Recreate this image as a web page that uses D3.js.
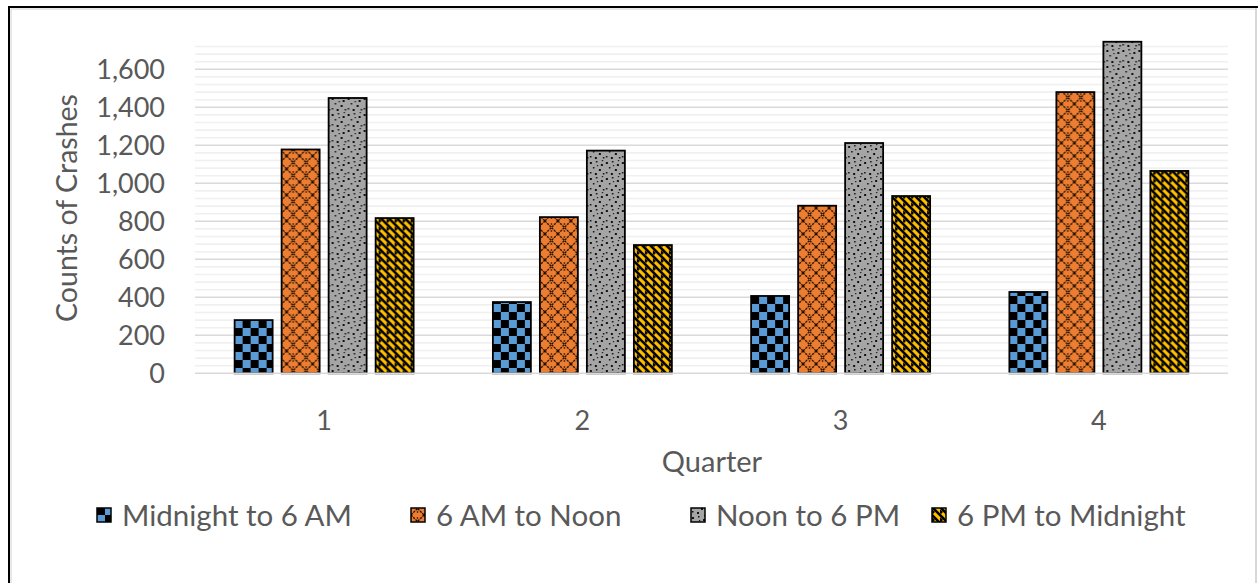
<!DOCTYPE html>
<html><head><meta charset="utf-8">
<script src="https://cdn.jsdelivr.net/npm/d3@7"></script>
<style>body{margin:0;background:#fff}svg{display:block}text{font-family:Lato,"Open Sans",sans-serif;fill:#595959}</style>
</head><body><svg id="c" width="1258" height="583"></svg>
<script>
const quarters = ["1","2","3","4"];
const seriesNames = ["Midnight to 6 AM","6 AM to Noon","Noon to 6 PM","6 PM to Midnight"];
const midnightTo6 = [280, 375, 407, 428];
const amToNoon = [1178, 822, 882, 1480];
const noonTo6 = [1449, 1172, 1212, 1745];
const pmToMidnight = [817, 675, 933, 1065];
const yTicks = [0,200,400,600,800,1000,1200,1400,1600];
const seriesValues = [midnightTo6, amToNoon, noonTo6, pmToMidnight];

const svg = d3.select("#c");
const defs = svg.append("defs");

// patterns
const p0 = defs.append("pattern").attr("id","pat0").attr("patternUnits","userSpaceOnUse").attr("width",16).attr("height",16);
p0.append("rect").attr("width",16).attr("height",16).attr("fill","#5b9bd5");
p0.append("rect").attr("x",8).attr("width",8).attr("height",8).attr("fill","#000");
p0.append("rect").attr("y",8).attr("width",8).attr("height",8).attr("fill","#000");

const p1 = defs.append("pattern").attr("id","pat1").attr("patternUnits","userSpaceOnUse").attr("width",13).attr("height",13);
p1.append("rect").attr("width",13).attr("height",13).attr("fill","#ed7d31");
p1.append("path").attr("d","M0,0L13,13M13,0L0,13").attr("stroke","#1a0d00").attr("stroke-width",1.3).attr("stroke-dasharray","2.2,1");
p1.append("circle").attr("cx",6.5).attr("cy",3).attr("r",0.8).attr("fill","#000");
p1.append("circle").attr("cx",6.5).attr("cy",10).attr("r",0.8).attr("fill","#000");

const p2 = defs.append("pattern").attr("id","pat2").attr("patternUnits","userSpaceOnUse").attr("width",16).attr("height",16);
p2.append("rect").attr("width",16).attr("height",16).attr("fill","#a5a5a5");
[[1,2,2],[7,1,1.5],[12,4,2],[4,7,1.5],[10,9,2],[1,12,1.5],[6,13,2],[14,13,1.5],[13,0,1.2],[8,5,1.2]].forEach(d=>{
  p2.append("rect").attr("x",d[0]).attr("y",d[1]).attr("width",d[2]).attr("height",d[2]).attr("fill","#111");
});

const p3 = defs.append("pattern").attr("id","pat3").attr("patternUnits","userSpaceOnUse").attr("width",8).attr("height",8);
p3.append("rect").attr("width",8).attr("height",8).attr("fill","#ffc000");
p3.append("path").attr("d","M-2,2L2,6M-2,-2L10,10M6,-2L10,2M2,-6L14,6M-6,2L6,14").attr("stroke","#000").attr("stroke-width",2.6);

// border
svg.append("line").attr("x1",9).attr("x2",1258).attr("y1",7).attr("y2",7).attr("stroke","#000").attr("stroke-width",2);
svg.append("line").attr("x1",9).attr("x2",9).attr("y1",6).attr("y2",583).attr("stroke","#000").attr("stroke-width",2);
svg.append("line").attr("x1",11).attr("x2",1255).attr("y1",9).attr("y2",9).attr("stroke","#e0e0e0").attr("stroke-width",1.5);
svg.append("line").attr("x1",11).attr("x2",11).attr("y1",9).attr("y2",583).attr("stroke","#e0e0e0").attr("stroke-width",1.5);
svg.append("line").attr("x1",1256).attr("x2",1256).attr("y1",8).attr("y2",583).attr("stroke","#d8d8d8").attr("stroke-width",2);

const x0 = d3.scaleBand().domain(quarters).range([195,1228]);
const y = d3.scaleLinear().domain([0,1720]).range([373.3,46.5]);
const bw = 38, gap = 9;
const x1 = d3.scaleBand().domain(seriesNames).range([0, 4*bw+3*gap]).paddingInner(gap/(bw+gap));

// gridlines
const minor = d3.range(40,1721,40).filter(v=>v%200!==0);
svg.append("g").selectAll("line").data(minor).join("line")
  .attr("x1",195).attr("x2",1228).attr("y1",d=>y(d)).attr("y2",d=>y(d))
  .attr("stroke","#f0f0f0").attr("stroke-width",1.6);
svg.append("g").selectAll("line").data(yTicks.slice(1)).join("line")
  .attr("x1",195).attr("x2",1228).attr("y1",d=>y(d)).attr("y2",d=>y(d))
  .attr("stroke","#dadada").attr("stroke-width",1.6);

// y tick labels
const fmt = d3.format(",");
svg.append("g").selectAll("text").data(yTicks).join("text")
  .attr("x",165).attr("y",d=>y(d)).attr("dy","0.36em").attr("text-anchor","end")
  .attr("font-size",27).text(d=>fmt(d));

// bars
const groups = svg.append("g").selectAll("g").data(quarters).join("g")
  .attr("transform",d=>`translate(${x0(d)+x0.bandwidth()/2-(4*bw+3*gap)/2},0)`);
groups.selectAll("rect").data((q,i)=>seriesNames.map((s,j)=>({s,j,v:seriesValues[j][i]}))).join("rect")
  .attr("x",d=>x1(d.s)).attr("width",bw)
  .attr("y",d=>y(d.v)).attr("height",d=>y(0)-y(d.v))
  .attr("fill",d=>`url(#pat${d.j})`).attr("stroke","#000").attr("stroke-width",1.8);

// x axis line
svg.append("line").attr("x1",195).attr("x2",1228).attr("y1",y(0)).attr("y2",y(0)).attr("stroke","#d9d9d9").attr("stroke-width",1.6);

// x labels
svg.append("g").selectAll("text").data(quarters).join("text")
  .attr("x",d=>x0(d)+x0.bandwidth()/2).attr("y",420).attr("dy","0.36em").attr("text-anchor","middle")
  .attr("font-size",27).text(d=>d);

// titles
svg.append("text").attr("x",712).attr("y",462).attr("dy","0.36em").attr("text-anchor","middle").attr("font-size",29).text("Quarter");
svg.append("text").attr("transform","translate(67,208) rotate(-90)").attr("dy","0.36em").attr("text-anchor","middle").attr("font-size",28.5).text("Counts of Crashes");

// legend
const legX = [97, 411, 691, 932];
const lg = svg.append("g").selectAll("g").data(seriesNames).join("g")
  .attr("transform",(d,i)=>`translate(${legX[i]},515)`);
lg.append("rect").attr("x",0).attr("y",-7).attr("width",14).attr("height",14)
  .attr("fill",(d,i)=>`url(#pat${i})`).attr("stroke","#000").attr("stroke-width",1.5);
lg.append("text").attr("x",25).attr("y",0).attr("dy","0.36em").attr("font-size",29.5).text(d=>d);
</script></body></html>
